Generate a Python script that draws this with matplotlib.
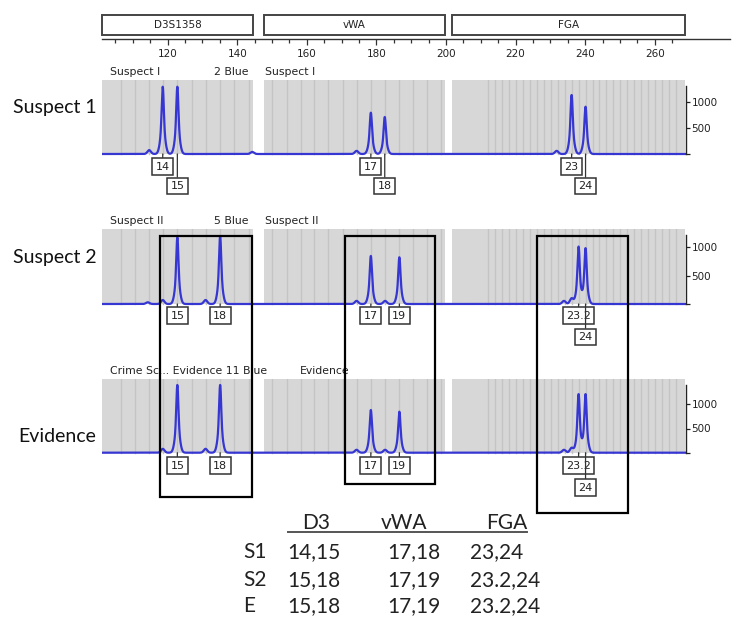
import numpy as np
import matplotlib
matplotlib.use('Agg')
import matplotlib.pyplot as plt
from matplotlib.patches import Rectangle
from matplotlib.transforms import blended_transform_factory

# ---------------- data ----------------
loci = ['D3S1358', 'vWA', 'FGA']
locus_start_bp = [101.2, 147.7, 201.7]
locus_end_bp = [144.5, 199.7, 268.7]

top_major_ticks = [120, 140, 160, 180, 200, 220, 240, 260]
top_minor_ticks = [105, 110, 115, 125, 130, 135, 145, 150, 155, 165, 170, 175,
                   185, 190, 195, 205, 210, 215, 225, 230, 235, 245, 250, 255, 265]

y_ticks = [0, 500, 1000]
y_tick_labels = ['', '500', '1000']

row_names = ['Suspect 1', 'Suspect 2', 'Evidence']

# allele bins (grey panel stripes), bp
d3_bins = [106.5, 110.5, 114.6, 118.6, 122.8, 126.9, 131.0, 135.1, 139.2, 143.3]
vwa_bins = [150.1, 154.2, 158.2, 162.2, 166.2, 170.3, 174.3, 178.4, 182.4,
            186.6, 190.6, 194.6, 198.6]
fga_bins = [212.1, 214.1, 216.1, 218.1, 220.1, 222.1, 224.1, 226.1, 228.1, 230.1,
            232.1, 234.1, 236.1, 238.1, 240.1, 242.1, 244.1, 246.1, 248.1, 250.1,
            252.1, 254.1, 256.1, 258.1, 260.1, 262.1, 264.1, 266.1]

# Suspect 1
s1_alleles = ['14', '15', '17', '18', '23', '24']
s1_sizes = [118.6, 122.8, 178.4, 182.4, 236.1, 240.1]
s1_heights = [1294, 1294, 794, 712, 1135, 910]
s1_levels = [0, 1, 0, 1, 0, 1]
s1_minor_sizes = [114.7, 144.3, 174.3, 231.8]
s1_minor_heights = [75, 40, 60, 60]

# Suspect 2
s2_alleles = ['15', '18', '17', '19', '23.2', '24']
s2_sizes = [122.8, 135.1, 178.4, 186.6, 238.1, 240.1]
s2_heights = [1176, 1199, 847, 824, 1010, 982]
s2_levels = [0, 0, 0, 0, 0, 1]
s2_minor_sizes = [114.3, 118.6, 130.9, 174.3, 182.5, 233.9, 236.1]
s2_minor_heights = [30, 70, 70, 55, 55, 55, 100]

# Evidence
ev_alleles = ['15', '18', '17', '19', '23.2', '24']
ev_sizes = [122.8, 135.1, 178.4, 186.6, 238.1, 240.1]
ev_heights = [1399, 1399, 882, 847, 1207, 1207]
ev_levels = [0, 0, 0, 0, 0, 1]
ev_minor_sizes = [118.6, 130.9, 174.3, 182.5, 233.9, 236.1]
ev_minor_heights = [80, 80, 60, 60, 60, 100]

row_left_titles = ['Suspect I', 'Suspect II', 'Crime Sc... Evidence 11 Blue']
row_dye_titles = ['2 Blue', '5 Blue', '']
row_mid_titles = ['Suspect I', 'Suspect II', 'Evidence']

table_cols = ['D3', 'vWA', 'FGA']
table_rows = ['S1', 'S2', 'E']
table_d3 = ['14,15', '15,18', '15,18']
table_vwa = ['17,18', '17,19', '17,19']
table_fga = ['23,24', '23.2,24', '23.2,24']

# ---------------- layout helpers ----------------
W, H = 748, 639
PX120, PXBP = 167.6, 3.48  # pixel of 120 bp, pixels per bp


def bp_at(px):
    return 120 + (px - PX120) / PXBP


def fx(px):
    return px / W


def fy(py):
    return 1 - py / H


BLUE = '#3636d2'
GREY = '#d7d7d7'
STRIPE = '#c4c4c4'
SMALL_FONT = 'DejaVu Sans'
BIG_FONT = 'Lato'

fig = plt.figure(figsize=(W / 100, H / 100), dpi=100)

# ---------------- top size axis ----------------
tl, tr, tt, tb = 100, 730, 8, 39
ax_top = fig.add_axes([fx(tl), fy(tb), fx(tr) - fx(tl), (tb - tt) / H])
ax_top.set_xlim(bp_at(tl), bp_at(tr))
ax_top.set_ylim(0, 1)
for s in ['top', 'left', 'right']:
    ax_top.spines[s].set_visible(False)
ax_top.spines['bottom'].set_color('#333333')
ax_top.spines['bottom'].set_linewidth(1.0)
ax_top.spines['bottom'].set_bounds(bp_at(102), bp_at(tr))
ax_top.set_yticks([])
ax_top.set_xticks(top_major_ticks)
ax_top.set_xticklabels([str(t) for t in top_major_ticks], fontsize=7.5,
                       family=SMALL_FONT, color='#222222')
ax_top.set_xticks(top_minor_ticks, minor=True)
ax_top.tick_params(axis='x', which='major', direction='out', length=4.5, width=0.9,
                   color='#333333', pad=2.5)
ax_top.tick_params(axis='x', which='minor', direction='out', length=3, width=0.9,
                   color='#333333')
ax_top.patch.set_alpha(0)
trans_top = blended_transform_factory(ax_top.transData, ax_top.transAxes)
b0 = (tb - 35) / (tb - tt)
b1 = (tb - 15) / (tb - tt)
for name, a, b in zip(loci, locus_start_bp, locus_end_bp):
    ax_top.add_patch(Rectangle((a, b0), b - a, b1 - b0, transform=trans_top,
                               facecolor='white', edgecolor='#444444', lw=1.4,
                               clip_on=False))
    ax_top.text((a + b) / 2, (b0 + b1) / 2, name, transform=trans_top, ha='center',
                va='center', fontsize=7.5, family=SMALL_FONT, color='#222222')

# ---------------- electropherogram rows ----------------
row_top_px = [80, 229.3, 379.3]
row_base_px = [154, 304, 452.7]
row_1000_px = [102, 247.3, 404.3]
rl, rr = 102.3, 686
below = 3

rows_data = [
    (s1_alleles, s1_sizes, s1_heights, s1_levels, s1_minor_sizes, s1_minor_heights),
    (s2_alleles, s2_sizes, s2_heights, s2_levels, s2_minor_sizes, s2_minor_heights),
    (ev_alleles, ev_sizes, ev_heights, ev_levels, ev_minor_sizes, ev_minor_heights),
]
bins_all = [d3_bins, vwa_bins, fga_bins]
level_offsets_px = [[12.5, 32], [11.5, 33], [13, 35]]


def peak_trace(x, sizes, heights):
    y = np.zeros_like(x)
    for s, h in zip(sizes, heights):
        y += h * (0.6 * np.exp(-0.5 * ((x - s) / 0.28) ** 2)
                  + 0.4 * np.exp(-0.5 * ((x - s) / 0.65) ** 2))
    return y


def bump_trace(x, sizes, heights):
    y = np.zeros_like(x)
    for s, h in zip(sizes, heights):
        y += h * np.exp(-0.5 * ((x - s) / 0.5) ** 2)
    return y


for r in range(3):
    alle, sizes, heights, levels, msz, mht = rows_data[r]
    T, B, P1 = row_top_px[r], row_base_px[r], row_1000_px[r]
    rpp = 1000.0 / (B - P1)
    ax = fig.add_axes([fx(rl), fy(B + below), fx(rr) - fx(rl), (B + below - T) / H])
    ax.set_xlim(bp_at(rl), bp_at(rr))
    ax.set_ylim(-below * rpp, (B - T) * rpp)
    ax.patch.set_alpha(0)
    f0 = below / (B + below - T)
    for (a, b), bins in zip(zip(locus_start_bp, locus_end_bp), bins_all):
        ax.axvspan(a, b, ymin=f0, ymax=1, facecolor=GREY, edgecolor='none', zorder=0)
        for bx in bins:
            ax.axvline(bx, ymin=f0, ymax=1, color=STRIPE, lw=1.0, zorder=0.5)
    x = np.linspace(bp_at(rl), bp_at(rr), 6000)
    y = peak_trace(x, sizes, heights) + bump_trace(x, msz, mht)
    ax.plot(x, y, color=BLUE, lw=1.6, zorder=2, solid_joinstyle='round')
    # axis on right
    for s in ['top', 'left', 'bottom']:
        ax.spines[s].set_visible(False)
    ax.spines['right'].set_bounds(0, (B - T) * rpp * 0.92)
    ax.spines['right'].set_color('#222222')
    ax.spines['right'].set_linewidth(1.0)
    ax.set_xticks([])
    ax.yaxis.tick_right()
    ax.set_yticks(y_ticks)
    ax.set_yticklabels(y_tick_labels, fontsize=7.5, family=SMALL_FONT, color='#222222')
    ax.tick_params(axis='y', direction='out', length=3, width=0.9, pad=1,
                   color='#222222')
    # allele label boxes
    for lab, s, lv in zip(alle, sizes, levels):
        off = level_offsets_px[r][lv] * 0.72
        ax.annotate(lab, xy=(s, 0), xytext=(0, -off), textcoords='offset points',
                    ha='center', va='center', fontsize=8, family=SMALL_FONT,
                    color='#222222', annotation_clip=False, zorder=4,
                    bbox=dict(boxstyle='square,pad=0.3', facecolor='white',
                              edgecolor='#333333', lw=1.1),
                    arrowprops=dict(arrowstyle='-', color='#333333', lw=0.9,
                                    shrinkA=0, shrinkB=0))
    # small titles
    ty = T - 8
    fig.text(fx(rl + 8), fy(ty), row_left_titles[r], fontsize=7.8, family=SMALL_FONT,
             ha='left', va='center', color='#222222')
    if row_dye_titles[r]:
        fig.text(fx(248), fy(ty), row_dye_titles[r], fontsize=7.8, family=SMALL_FONT,
                 ha='right', va='center', color='#222222')
    fig.text(fx(265 if r < 2 else 300), fy(ty), row_mid_titles[r], fontsize=7.8,
             family=SMALL_FONT, ha='left', va='center', color='#222222')

# row names
row_name_pos = [(13, 108), (13, 257), (18, 436)]
for name, (px, py) in zip(row_names, row_name_pos):
    fig.text(fx(px), fy(py), name, fontsize=14, family=BIG_FONT, ha='left',
             va='center', color='#111111')

# highlight boxes
boxes_px = [(160, 236, 252.3, 496.7), (345, 236, 435, 484.3), (536.7, 236, 628.3, 513.3)]
for x0, y0, x1, y1 in boxes_px:
    fig.add_artist(Rectangle((fx(x0), fy(y1)), fx(x1) - fx(x0), fy(y0) - fy(y1),
                             transform=fig.transFigure, facecolor='none',
                             edgecolor='black', lw=1.6, zorder=10))

# genotype table
fig.text(fx(316.5), fy(523), table_cols[0], fontsize=15, family=BIG_FONT,
         ha='center', va='center', color='#222222')
fig.text(fx(404), fy(523), table_cols[1], fontsize=15, family=BIG_FONT,
         ha='center', va='center', color='#222222')
fig.text(fx(527), fy(523), table_cols[2], fontsize=15, family=BIG_FONT,
         ha='right', va='center', color='#222222')
fig.add_artist(plt.Line2D([fx(287.7), fx(526.7)], [fy(532.3), fy(532.3)],
                          transform=fig.transFigure, color='#555555', lw=1.4))
row_y = [552, 580, 606]
for i in range(3):
    fig.text(fx(243), fy(row_y[i]), table_rows[i], fontsize=15, family=BIG_FONT,
             ha='left', va='center', color='#222222')
    fig.text(fx(287.7), fy(row_y[i]), table_d3[i], fontsize=15, family=BIG_FONT,
             ha='left', va='center', color='#222222')
    fig.text(fx(387.7), fy(row_y[i]), table_vwa[i], fontsize=15, family=BIG_FONT,
             ha='left', va='center', color='#222222')
    fig.text(fx(470), fy(row_y[i]), table_fga[i], fontsize=15, family=BIG_FONT,
             ha='left', va='center', color='#222222')

fig.savefig('out.png', dpi=100)
